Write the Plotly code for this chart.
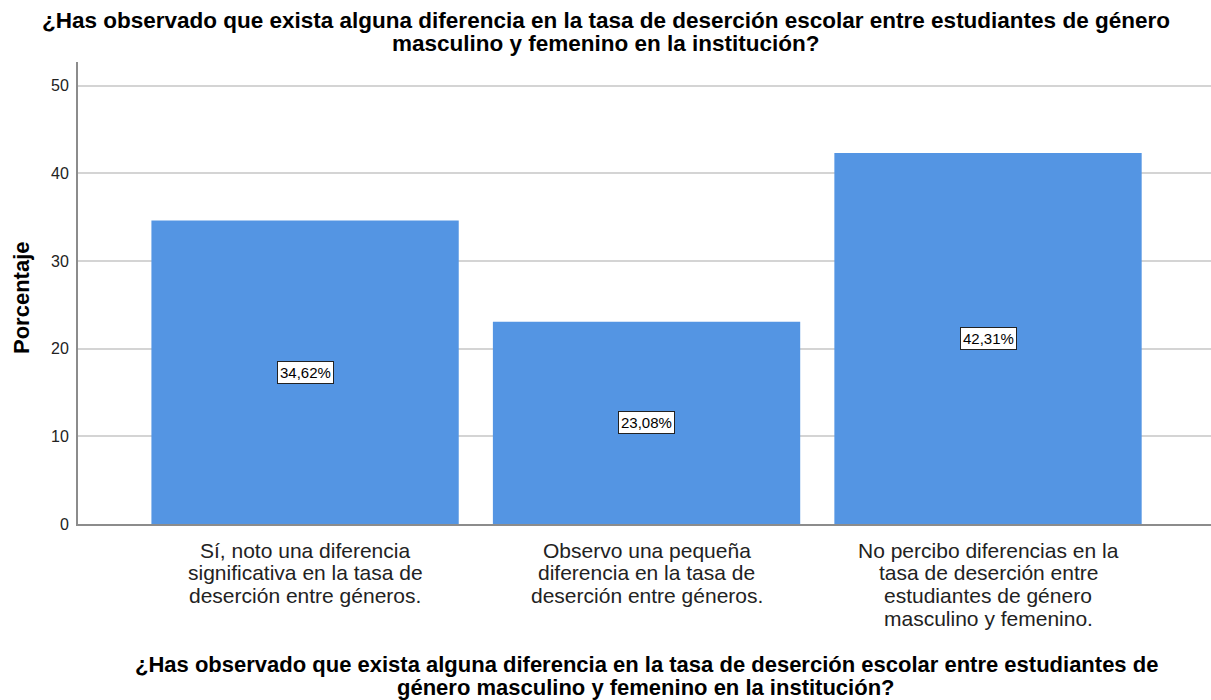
import plotly.graph_objects as go

categories = [
    ["Sí, noto una diferencia", "significativa en la tasa de", "deserción entre géneros."],
    ["Observo una pequeña", "diferencia en la tasa de", "deserción entre géneros."],
    ["No percibo diferencias en la", "tasa de deserción entre", "estudiantes de género", "masculino y femenino."],
]
values = [34.62, 23.08, 42.31]
value_labels = ["34,62%", "23,08%", "42,31%"]
y_ticks = [0, 10, 20, 30, 40, 50]

title_lines = ["¿Has observado que exista alguna diferencia en la tasa de deserción escolar entre estudiantes de género",
               "masculino y femenino en la institución?"]
xaxis_title_lines = ["¿Has observado que exista alguna diferencia en la tasa de deserción escolar entre estudiantes de",
                     "género masculino y femenino en la institución?"]
yaxis_title = "Porcentaje"

FONT = "Liberation Sans, Arial, sans-serif"
W, H = 1211, 700
L, R, T, B = 78, 0, 62, 176
PW, PH = W - L - R, H - T - B


def px_x(x):
    return (x - L) / PW


def px_y(y):
    return (H - B - y) / PH


x_idx = list(range(len(categories)))

fig = go.Figure()
fig.add_trace(go.Bar(
    x=x_idx, y=values, width=0.9,
    marker=dict(color="#5495E3", line=dict(width=0)),
    hoverinfo="skip",
))

for i, (v, lab) in enumerate(zip(values, value_labels)):
    fig.add_annotation(x=i, y=v / 2, xref="x", yref="y", text=lab, showarrow=False,
                       font=dict(family=FONT, size=15, color="#000000"),
                       bgcolor="#FFFFFF", bordercolor="#222222", borderwidth=1, borderpad=2)

# category labels (one annotation per line for tight line spacing)
for i, lines in enumerate(categories):
    for j, line in enumerate(lines):
        fig.add_annotation(x=i, y=px_y(550 + j * 22.7), xref="x", yref="paper", text=line,
                           showarrow=False, yanchor="middle", xanchor="center",
                           font=dict(family=FONT, size=21, color="#222222"))

# title
for j, line in enumerate(title_lines):
    fig.add_annotation(x=px_x(606), y=px_y(21 + j * 22), xref="paper", yref="paper",
                       text="<b>" + line + "</b>", showarrow=False,
                       yanchor="middle", xanchor="center",
                       font=dict(family=FONT, size=22.5, color="#000000"))

# x-axis title
for j, line in enumerate(xaxis_title_lines):
    fig.add_annotation(x=px_x(646), y=px_y(664.5 + j * 22.5), xref="paper", yref="paper",
                       text="<b>" + line + "</b>", showarrow=False,
                       yanchor="middle", xanchor="center",
                       font=dict(family=FONT, size=22, color="#000000"))

# y-axis title
fig.add_annotation(x=px_x(21), y=px_y(298), xref="paper", yref="paper",
                   text="<b>" + yaxis_title + "</b>", showarrow=False, textangle=-90,
                   yanchor="middle", xanchor="center",
                   font=dict(family=FONT, size=22, color="#000000"))

fig.update_layout(
    width=W, height=H,
    margin=dict(l=L, r=R, t=T, b=B, autoexpand=False),
    paper_bgcolor="#FFFFFF", plot_bgcolor="#FFFFFF",
    showlegend=False,
    xaxis=dict(range=[-0.665, 2.653], tickvals=x_idx, ticktext=["", "", ""],
               showgrid=False, zeroline=False, showline=True, linecolor="#8C8C8C", linewidth=2,
               ticks=""),
    yaxis=dict(range=[0, 52.7], tickvals=y_ticks, showgrid=True, gridcolor="#D4D4D4", gridwidth=1.5,
               zeroline=False, showline=True, linecolor="#8C8C8C", linewidth=2,
               ticks="", ticklabelstandoff=4,
               tickfont=dict(family=FONT, size=16, color="#222222")),
)

fig.write_html("out.html", config={"displayModeBar": False},
               post_script="document.body.style.margin='0';document.body.style.padding='0';")
